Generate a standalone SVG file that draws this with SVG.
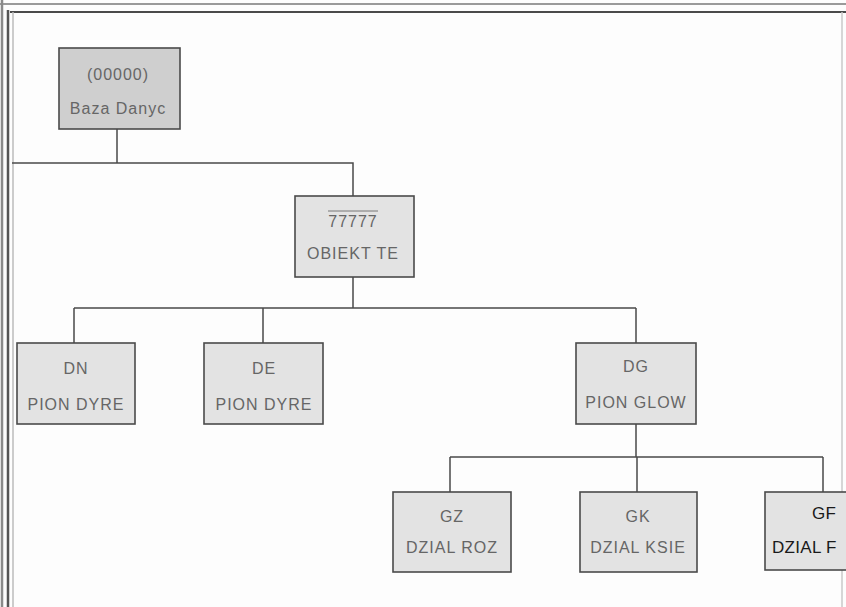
<svg xmlns="http://www.w3.org/2000/svg" width="846" height="607" viewBox="0 0 846 607">
<style>
.box{fill:#e3e3e3;stroke:#4a4a4a;stroke-width:1.6}
.root{fill:#cfcfcf}
.t{font-family:"Liberation Sans",Arial,sans-serif;font-size:16px;fill:#666;text-anchor:middle;letter-spacing:1px}
.tb{font-family:"Liberation Sans",Arial,sans-serif;font-size:17px;fill:#1a1a1a;letter-spacing:0.3px}
.c{fill:none;stroke:#4a4a4a;stroke-width:1.5}
</style>
<rect width="846" height="607" fill="#fdfdfd"/>
<g id="frame">
<line x1="0" y1="4" x2="846" y2="4" stroke="#9a9a9a" stroke-width="2"/>
<line x1="10" y1="12" x2="846" y2="12" stroke="#4a4a4a" stroke-width="2"/>
<line x1="2" y1="0" x2="2" y2="607" stroke="#8a8a8a" stroke-width="2.5"/>
<line x1="8" y1="10" x2="8" y2="607" stroke="#555" stroke-width="2.5"/>
<line x1="13" y1="12" x2="13" y2="607" stroke="#bbb" stroke-width="1.5"/>
<line x1="842" y1="12" x2="842" y2="607" stroke="#c8c8c8" stroke-width="1.5"/>
</g>
<g id="connectors">
<path class="c" d="M117 129 V163 M12 163 H353 V196"/>
<path class="c" d="M353 277 V308 M74 308 H636 M74 308 V343 M263 308 V343 M636 308 V343"/>
<path class="c" d="M636 424 V457 M450 457 H823 M450 457 V492 M637 457 V492 M823 457 V492"/>
</g>
<g id="root">
<rect class="box root" x="59" y="48" width="121" height="81"/>
<text class="t" x="118" y="80">(00000)</text>
<text class="t" x="118" y="114">Baza Danyc</text>
</g>
<g id="obiekt">
<rect class="box" x="295" y="196" width="119" height="81"/>
<line x1="328" y1="211" x2="378" y2="211" stroke="#777" stroke-width="1"/>
<text class="t" x="353" y="227">77777</text>
<text class="t" x="353" y="259">OBIEKT TE</text>
</g>
<g id="dn">
<rect class="box" x="17" y="343" width="118" height="81"/>
<text class="t" x="76" y="374">DN</text>
<text class="t" x="76" y="410">PION DYRE</text>
</g>
<g id="de">
<rect class="box" x="204" y="343" width="119" height="81"/>
<text class="t" x="264" y="374">DE</text>
<text class="t" x="264" y="410">PION DYRE</text>
</g>
<g id="dg">
<rect class="box" x="576" y="343" width="120" height="81"/>
<text class="t" x="636" y="372">DG</text>
<text class="t" x="636" y="408">PION GLOW</text>
</g>
<g id="gz">
<rect class="box" x="393" y="492" width="118" height="80"/>
<text class="t" x="452" y="522">GZ</text>
<text class="t" x="452" y="553">DZIAL ROZ</text>
</g>
<g id="gk">
<rect class="box" x="580" y="492" width="117" height="80"/>
<text class="t" x="638" y="522">GK</text>
<text class="t" x="638" y="553">DZIAL KSIE</text>
</g>
<g id="gf">
<rect class="box" x="765" y="492" width="120" height="78"/>
<text class="tb" x="812" y="519">GF</text>
<text class="tb" x="772" y="553">DZIAL F</text>
</g>
</svg>
